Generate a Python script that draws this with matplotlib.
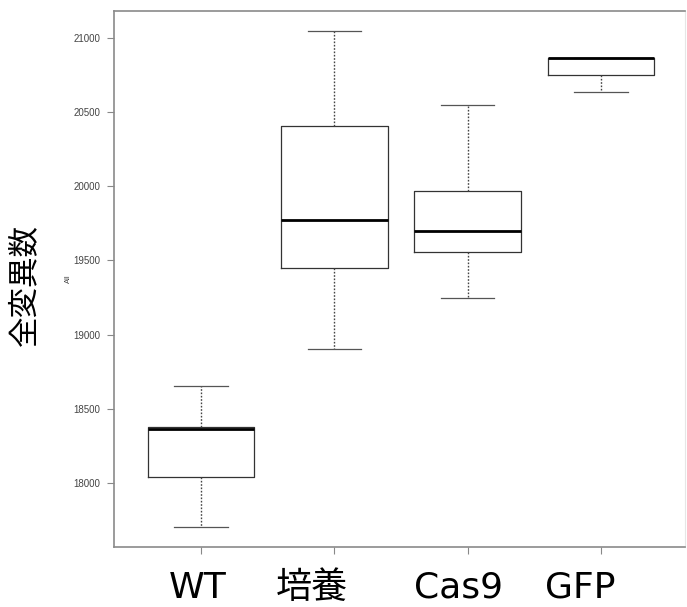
import matplotlib
matplotlib.use("Agg")
import matplotlib.pyplot as plt

plt.rcParams['font.family'] = ['Noto Sans CJK JP', 'DejaVu Sans']

# groups and five-number summaries
groups = ["WT", "培養", "Cas9", "GFP"]
whisker_low = [17700, 18900, 19245, 20635]
q1 = [18040, 19450, 19558, 20750]
median = [18365, 19775, 19700, 20865]
q3 = [18380, 20405, 19968, 20868]
whisker_high = [18655, 21050, 20550, 20868]

yticks = [18000, 18500, 19000, 19500, 20000, 20500, 21000]

stats = []
for i in range(len(groups)):
    stats.append({"whislo": whisker_low[i], "q1": q1[i], "med": median[i],
                  "q3": q3[i], "whishi": whisker_high[i], "fliers": []})

fig = plt.figure(figsize=(6.87, 6.07), dpi=100)
ax = fig.add_axes([114 / 687, 1 - 547 / 607, 571 / 687, 536 / 607])

ax.bxp(stats, positions=[1, 2, 3, 4], widths=0.8, showfliers=False,
       boxprops=dict(color="#333333", linewidth=0.9),
       medianprops=dict(color="black", linewidth=2.0),
       whiskerprops=dict(color="#444444", linewidth=1.0, linestyle=(0, (1.2, 1.2))),
       capprops=dict(color="#555555", linewidth=0.9),
       capwidths=0.4)

ax.set_xlim(0.347, 4.63)
ax.set_ylim(17568, 21182)

ax.set_yticks(yticks)
ax.set_yticklabels([str(v) for v in yticks], family="Liberation Sans",
                   fontsize=7, color="#444444")
ax.set_xticks([1, 2, 3, 4])
ax.set_xticklabels([])
ax.tick_params(axis="both", length=5, width=0.8, color="#888888")
ax.tick_params(axis="y", pad=5)

for side in ["left", "bottom", "top"]:
    ax.spines[side].set_color("#8a8a8a")
    ax.spines[side].set_linewidth(1.2)
ax.spines["right"].set_color("#e6e6e6")
ax.spines["right"].set_linewidth(0.8)

# small axis title and big japanese label
fig.text(68 / 687, 1 - 279 / 607, "All", rotation=90, fontsize=5.5,
         family="Liberation Sans", color="#444444", ha="center", va="center")
fig.text(24 / 687, 1 - 285 / 607, "全変異数", rotation=90, fontsize=22,
         ha="center", va="center", color="black")

# group labels under the axis
label_x = [198, 312, 459, 580]
for name, px in zip(groups, label_x):
    fig.text(px / 687, 1 - 598 / 607, name, fontsize=26, ha="center",
             va="baseline", color="black",
             family=["DejaVu Sans", "Noto Sans CJK JP"])

fig.savefig("out.png", dpi=100, facecolor="white")
